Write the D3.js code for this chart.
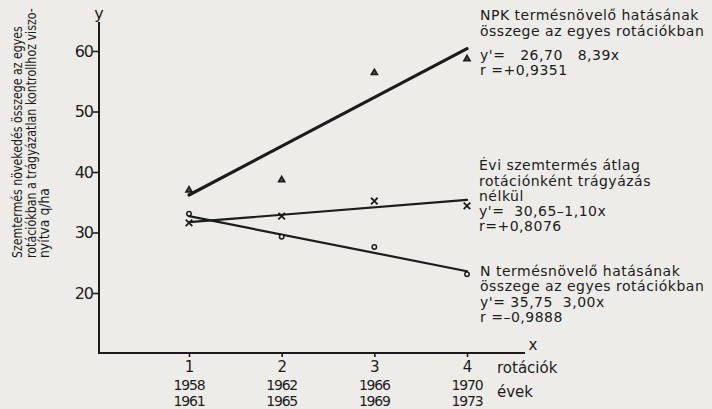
<!DOCTYPE html>
<html>
<head>
<meta charset="utf-8">
<script src="https://cdn.jsdelivr.net/npm/d3@7"></script>
<style>
  body { margin: 0; background: #edece8; }
  svg { display: block; }
  text { fill: #1c1c1c; font-family: "DejaVu Sans", sans-serif; white-space: pre; }
</style>
</head>
<body>
<div id="chart"></div>
<script>
// rotations (x) and their year ranges
const rotations = [1, 2, 3, 4];
const yearsFrom = ["1958", "1962", "1966", "1970"];
const yearsTo = ["1961", "1965", "1969", "1973"];
const yTicks = [20, 30, 40, 50, 60];

// measured points, q/ha
const npkValues = [37.0, 38.7, 56.4, 58.7];
const eviValues = [31.6, 32.7, 35.2, 34.4];
const nValues = [33.1, 29.3, 27.6, 23.1];

// fitted lines as drawn (value at rotation 1 and 4)
const lineX = [1, 4];
const npkLine = [36.2, 60.4];
const eviLine = [31.7, 35.4];
const nLine = [32.7, 23.6];

const npkText = ["NPK termésnövelő hatásának", "összege az egyes rotációkban", "y'=   26,70   8,39x", "r =+0,9351"];
const eviText = ["Évi szemtermés átlag", "rotációnként trágyázás", "nélkül", "y'=  30,65–1,10x", "r=+0,8076"];
const nText = ["N termésnövelő hatásának", "összege az egyes rotációkban", "y'= 35,75  3,00x", "r =–0,9888"];
const yTitle = ["Szemtermés növekedés összege az egyes", "rotációkban a trágyázatlan kontrollhoz viszo-", "nyítva q/ha"];

function drawChart() {
    const width = 712, height = 409;
    const axisX = 99, axisY = 353;

    const svg = d3.select("#chart")
        .append("svg")
        .attr("width", width)
        .attr("height", height);

    const x = d3.scaleLinear().domain([1, 4]).range([189, 467]);
    const y = d3.scaleLinear().domain([20, 60]).range([293, 51]);

    // axes lines
    svg.append("line")
        .attr("x1", axisX).attr("x2", axisX)
        .attr("y1", 22).attr("y2", axisY)
        .attr("stroke", "#1c1c1c").attr("stroke-width", 2);
    svg.append("line")
        .attr("x1", axisX - 1).attr("x2", 525)
        .attr("y1", axisY).attr("y2", axisY)
        .attr("stroke", "#1c1c1c").attr("stroke-width", 2);

    svg.append("text").attr("x", axisX).attr("y", 19)
        .attr("text-anchor", "middle").style("font-size", "16px").text("y");
    svg.append("text").attr("x", 533).attr("y", 350)
        .attr("text-anchor", "middle").style("font-size", "15px").text("x");

    // y ticks
    const yAxis = svg.append("g")
        .attr("transform", "translate(" + axisX + ",0)")
        .call(d3.axisLeft(y).tickValues(yTicks).tickSize(6).tickPadding(0));
    yAxis.select(".domain").remove();
    yAxis.selectAll(".tick line").attr("stroke", "#1c1c1c").attr("stroke-width", 1.6);
    yAxis.selectAll(".tick text")
        .attr("font-family", "DejaVu Sans")
        .style("font-size", "16px")
        .attr("letter-spacing", "-1px")
        .attr("fill", "#1c1c1c");

    // x ticks
    const xAxis = svg.append("g")
        .attr("transform", "translate(0," + axisY + ")")
        .call(d3.axisBottom(x).tickValues(rotations).tickSize(4).tickFormat(d3.format("d")));
    xAxis.select(".domain").remove();
    xAxis.selectAll(".tick line").attr("stroke", "#1c1c1c").attr("stroke-width", 1.6);
    xAxis.selectAll(".tick text")
        .attr("font-family", "DejaVu Sans")
        .style("font-size", "15px")
        .attr("y", 8)
        .attr("dy", "0.71em")
        .attr("fill", "#1c1c1c");

    const years = svg.append("g");
    years.selectAll(".yfrom").data(rotations).enter().append("text")
        .attr("x", d => x(d)).attr("y", 390)
        .attr("text-anchor", "middle").style("font-size", "14px")
        .attr("letter-spacing", "-1.2px")
        .text((d, i) => yearsFrom[i]);
    years.selectAll(".yto").data(rotations).enter().append("text")
        .attr("x", d => x(d)).attr("y", 406)
        .attr("text-anchor", "middle").style("font-size", "14px")
        .attr("letter-spacing", "-1.2px")
        .text((d, i) => yearsTo[i]);

    svg.append("text").attr("x", 497).attr("y", 373).style("font-size", "15px").text("rotációk");
    svg.append("text").attr("x", 497).attr("y", 397).style("font-size", "15px").text("évek");

    // fitted lines
    const line = d3.line().x(d => x(d[0])).y(d => y(d[1]));
    const lines = [[npkLine, 3.2], [eviLine, 2.2], [nLine, 2.2]];
    lines.forEach(function (l) {
        svg.append("path")
            .datum(lineX.map((v, i) => [v, l[0][i]]))
            .attr("d", line)
            .attr("fill", "none")
            .attr("stroke", "#1c1c1c")
            .attr("stroke-width", l[1])
            .attr("stroke-linecap", "round");
    });

    // markers
    svg.selectAll(".tri").data(npkValues).enter().append("path")
        .attr("transform", (d, i) => "translate(" + x(rotations[i]) + "," + y(d) + ")")
        .attr("d", d3.symbol(d3.symbolTriangle).size(16))
        .attr("fill", "#555").attr("stroke", "#1c1c1c").attr("stroke-width", 1.6);
    svg.selectAll(".cross").data(eviValues).enter().append("path")
        .attr("transform", (d, i) => "translate(" + x(rotations[i]) + "," + y(d) + ")")
        .attr("d", d3.symbol(d3.symbolTimes).size(30))
        .attr("fill", "none").attr("stroke", "#1c1c1c").attr("stroke-width", 1.8);
    svg.selectAll(".dot").data(nValues).enter().append("circle")
        .attr("cx", (d, i) => x(rotations[i])).attr("cy", d => y(d))
        .attr("r", 2.2)
        .attr("fill", "#eee").attr("stroke", "#1c1c1c").attr("stroke-width", 1.5);

    // annotations, one text per line
    function block(lines, x0, ys) {
        lines.forEach(function (s, i) {
            svg.append("text")
                .attr("x", x0).attr("y", ys[i])
                .style("font-size", "14px")
                .attr("letter-spacing", "0.5px")
                .text(s);
        });
    }
    block(npkText, 480, [20, 36, 60, 75]);
    block(eviText, 479, [170, 186, 201, 216, 231]);
    block(nText, 480, [276, 291, 307, 322]);

    // rotated y title, squeezed to the lettering's length
    const titleLen = [232, 250, 70];
    yTitle.forEach(function (s, i) {
        const g = svg.append("g");
        const t = g.append("text")
            .attr("x", 0).attr("y", 0)
            .attr("font-family", "Liberation Sans")
            .style("font-size", "14px")
            .text(s);
        const k = titleLen[i] / t.node().getComputedTextLength();
        g.attr("transform", "translate(" + (22 + i * 13.5) + ",258) rotate(-90) scale(" + k + ",1)");
    });
}

window.addEventListener('load', function () {
    drawChart();
});
</script>
</body>
</html>
